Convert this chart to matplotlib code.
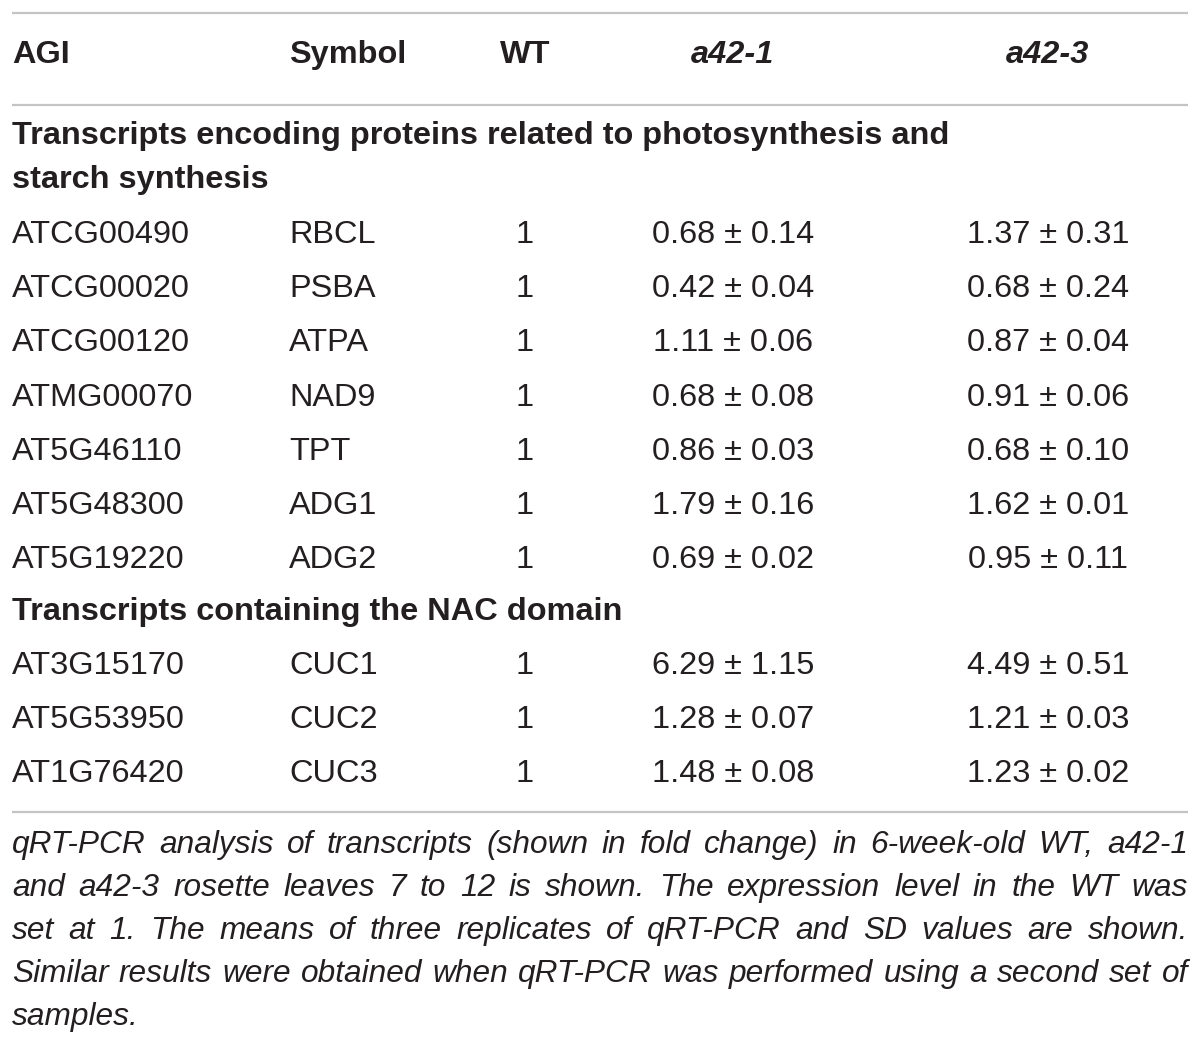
import matplotlib
matplotlib.use("Agg")
import matplotlib.pyplot as plt

# ---- data ----
columns = ["AGI", "Symbol", "WT", "a42-1", "a42-3"]
section1_title = ["Transcripts encoding proteins related to photosynthesis and", "starch synthesis"]
section2_title = ["Transcripts containing the NAC domain"]
agi_1 = ["ATCG00490", "ATCG00020", "ATCG00120", "ATMG00070", "AT5G46110", "AT5G48300", "AT5G19220"]
sym_1 = ["RBCL", "PSBA", "ATPA", "NAD9", "TPT", "ADG1", "ADG2"]
wt_1 = [1, 1, 1, 1, 1, 1, 1]
a421_mean_1 = [0.68, 0.42, 1.11, 0.68, 0.86, 1.79, 0.69]
a421_sd_1 = [0.14, 0.04, 0.06, 0.08, 0.03, 0.16, 0.02]
a423_mean_1 = [1.37, 0.68, 0.87, 0.91, 0.68, 1.62, 0.95]
a423_sd_1 = [0.31, 0.24, 0.04, 0.06, 0.10, 0.01, 0.11]
agi_2 = ["AT3G15170", "AT5G53950", "AT1G76420"]
sym_2 = ["CUC1", "CUC2", "CUC3"]
wt_2 = [1, 1, 1]
a421_mean_2 = [6.29, 1.28, 1.48]
a421_sd_2 = [1.15, 0.07, 0.08]
a423_mean_2 = [4.49, 1.21, 1.23]
a423_sd_2 = [0.51, 0.03, 0.02]
caption_lines = [
    "qRT-PCR analysis of transcripts (shown in fold change) in 6-week-old WT, a42-1",
    "and a42-3 rosette leaves 7 to 12 is shown. The expression level in the WT was",
    "set at 1. The means of three replicates of qRT-PCR and SD values are shown.",
    "Similar results were obtained when qRT-PCR was performed using a second set of",
    "samples.",
]

# ---- layout ----
W, H = 1200, 1045
fig = plt.figure(figsize=(W / 100, H / 100), dpi=100)
ax = fig.add_axes([0, 0, 1, 1])
ax.set_xlim(0, W)
ax.set_ylim(H, 0)
ax.axis("off")

FONT = ["Liberation Sans", "DejaVu Sans"]
FS = 23.4
TXT = "#231f20"
RULE = "#c4c4c4"
L, R = 12, 1188

for y in (13, 105, 812):
    ax.plot([L, R], [y, y], color=RULE, lw=1.6, solid_capstyle="butt")

col_x = [12, 289, 525, 733, 1048]
col_ha = ["left", "left", "center", "center", "center"]
col_style = ["normal", "normal", "normal", "italic", "italic"]
for c, x, ha, st in zip(columns, col_x, col_ha, col_style):
    ax.text(x, 63, c, ha=ha, va="baseline", fontsize=FS, fontweight="bold",
            fontstyle=st, family=FONT, color=TXT)

def section(title_lines, y_title0, y_row0, agi, sym, wt, m1, s1, m3, s3):
    for i, t in enumerate(title_lines):
        ax.text(12, y_title0 + i * 44, t, ha="left", va="baseline", fontsize=FS,
                fontweight="bold", family=FONT, color=TXT)
    for i in range(len(agi)):
        y = y_row0 + i * 54.2
        vals = [agi[i], sym[i], str(wt[i]),
                f"{m1[i]:.2f} \u00b1 {s1[i]:.2f}", f"{m3[i]:.2f} \u00b1 {s3[i]:.2f}"]
        for v, x, ha in zip(vals, col_x, col_ha):
            ax.text(x, y, v, ha=ha, va="baseline", fontsize=FS, family=FONT,
                    color=TXT)

section(section1_title, 144, 243, agi_1, sym_1, wt_1,
        a421_mean_1, a421_sd_1, a423_mean_1, a423_sd_1)
section(section2_title, 620, 674, agi_2, sym_2, wt_2,
        a421_mean_2, a421_sd_2, a423_mean_2, a423_sd_2)

# ---- justified italic caption ----
renderer = fig.canvas.get_renderer()

def width_of(s, size):
    t = ax.text(0, 0, s, fontsize=size, fontstyle="italic", family=FONT)
    w = t.get_window_extent(renderer).width
    t.remove()
    return w

base = 20.0
natural = [width_of(l, base) for l in caption_lines[:-1]]
CFS = min(base * (R - L) / n for n in natural) * 0.985

cap_y = [853, 896, 939, 982, 1025]
natural_gap = width_of("a a", CFS) - width_of("aa", CFS)
for li, (line, y) in enumerate(zip(caption_lines, cap_y)):
    words = line.split(" ")
    texts = [ax.text(0, y, w, ha="left", va="baseline", fontsize=CFS,
                     fontstyle="italic", family=FONT, color=TXT) for w in words]
    widths = [t.get_window_extent(renderer).width for t in texts]
    last = li == len(caption_lines) - 1
    if last or len(words) == 1:
        gap = natural_gap
    else:
        gap = (R - L - sum(widths)) / (len(words) - 1)
    x = L
    for t, w in zip(texts, widths):
        t.set_x(x)
        x += w + gap

fig.savefig("out.png", dpi=100)
